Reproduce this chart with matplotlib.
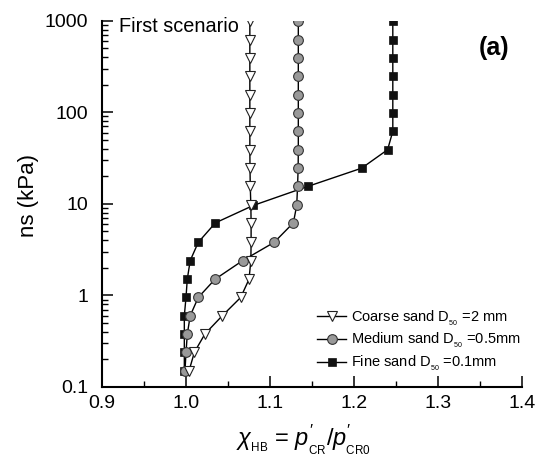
import matplotlib
matplotlib.use('Agg')
import matplotlib.pyplot as plt
from matplotlib.ticker import FixedLocator, FormatStrFormatter, LogLocator, NullFormatter

plt.rcParams['font.family'] = ['Liberation Sans', 'DejaVu Sans']
plt.rcParams['mathtext.fontset'] = 'custom'
plt.rcParams['mathtext.rm'] = 'Liberation Sans'
plt.rcParams['mathtext.it'] = 'Liberation Sans:italic'

# pressure levels (kPa)
ns_levels = [0.15, 0.24, 0.38, 0.6, 0.95, 1.5, 2.4, 3.8, 6.2, 9.6,
             15.5, 24.5, 39, 62, 98, 156, 247, 395, 622, 1000]

# chi_HB values for each sand
coarse = [1.0036, 1.010, 1.0226, 1.0432, 1.0651, 1.075, 1.0772, 1.0775, 1.0775, 1.0772,
          1.0765, 1.0762, 1.076, 1.076, 1.076, 1.076, 1.076, 1.076, 1.076, 1.076]
medium = [0.9988, 1.000, 1.0016, 1.005, 1.0146, 1.0345, 1.0675, 1.105, 1.1278, 1.1318,
          1.1328, 1.1335, 1.1337, 1.1337, 1.1337, 1.1337, 1.1337, 1.1337, 1.1337, 1.1337]
fine = [0.998, 0.998, 0.998, 0.998, 1.000, 1.0015, 1.005, 1.0146, 1.035, 1.080,
        1.145, 1.209, 1.240, 1.2462, 1.2462, 1.2462, 1.2462, 1.2462, 1.2462, 1.2462]

labels = ['Coarse sand D$_{_{50}}$ =2 mm',
          'Medium sand D$_{_{50}}$ =0.5mm',
          'Fine sand D$_{_{50}}$ =0.1mm']

fig = plt.figure(figsize=(5.42, 4.59), dpi=100)
ax = fig.add_axes([0.1882, 0.1569, 0.7749, 0.7980])

ax.plot(coarse, ns_levels, color='black', lw=1.0, marker='v', ms=7.5,
        mfc='white', mec='#222222', mew=0.8, label=labels[0], zorder=4)
ax.plot(medium, ns_levels, color='black', lw=1.0, marker='o', ms=7,
        mfc='#999999', mec='#333333', mew=0.8, label=labels[1], zorder=3)
ax.plot(fine, ns_levels, color='black', lw=1.0, marker='s', ms=6,
        mfc='#111111', mec='#111111', mew=0.5, label=labels[2], zorder=2)

ax.set_yscale('log')
ax.set_ylim(0.1, 1000)
ax.set_xlim(0.9, 1.4)

ax.xaxis.set_major_locator(FixedLocator([0.9, 1.0, 1.1, 1.2, 1.3, 1.4]))
ax.xaxis.set_minor_locator(FixedLocator([0.95, 1.05, 1.15, 1.25, 1.35]))
ax.xaxis.set_major_formatter(FormatStrFormatter('%.1f'))
ax.yaxis.set_major_locator(FixedLocator([0.1, 1, 10, 100, 1000]))
ax.yaxis.set_major_formatter(FormatStrFormatter('%g'))
ax.yaxis.set_minor_locator(LogLocator(base=10, subs=range(2, 10)))
ax.yaxis.set_minor_formatter(NullFormatter())

for s in ['top', 'right']:
    ax.spines[s].set_visible(False)
for s in ['left', 'bottom']:
    ax.spines[s].set_linewidth(1.5)

ax.tick_params(which='major', direction='in', length=8, width=1.1, labelsize=14)
ax.tick_params(which='minor', direction='in', length=4, width=1.0)
ax.tick_params(axis='y', which='major', pad=10)
ax.tick_params(axis='x', which='major', pad=6)

ax.set_ylabel('ns (kPa)', fontsize=16, va='center')
ax.yaxis.set_label_coords(-0.174, 0.524)
ax.set_xlabel(r'$\chi_{_{\rm HB}}$ = $p^{\prime}_{_{\rm CR}}/p^{\prime}_{_{\rm CR0}}$',
              fontsize=17, va='center')
ax.xaxis.set_label_coords(0.479, -0.145)

ax.text(0.04, 0.983, 'First scenario', transform=ax.transAxes, fontsize=14.3,
        ha='left', va='center')
ax.text(0.969, 0.925, '(a)', transform=ax.transAxes, fontsize=18,
        fontweight='bold', ha='right', va='center')

leg = ax.legend(loc='lower right', bbox_to_anchor=(1.02, 0.01), frameon=False,
                fontsize=10.5, handlelength=2.0, handletextpad=0.3,
                labelspacing=0.25, borderpad=0.2)

fig.savefig('out.png', dpi=100)
